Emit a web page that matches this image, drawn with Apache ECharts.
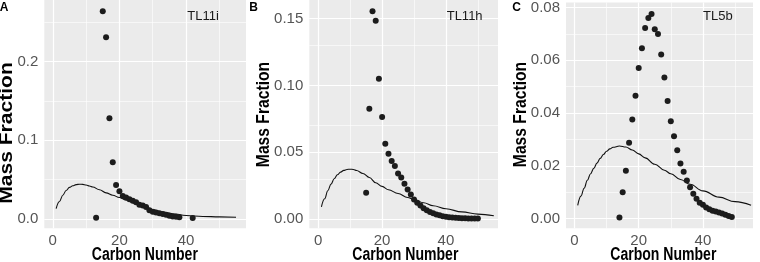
<!DOCTYPE html>
<html><head><meta charset="utf-8">
<script src="https://cdn.jsdelivr.net/npm/echarts@6/dist/echarts.min.js"></script>
<style>html,body{margin:0;padding:0;background:#fff}#c{width:760px;height:262px}</style>
</head><body><div id="c"></div>
<script>
// ---- data ----
const carbonA = [13,15,16,17,18,19,20,21,22,23,24,25,26,27,28,29,30,31,32,33,34,35,36,37,38,42];
const massA = [0.0013,0.264,0.231,0.128,0.072,0.043,0.035,0.029,0.027,0.025,0.023,0.021,0.018,0.017,0.015,0.011,0.009,0.008,0.007,0.006,0.005,0.004,0.003,0.0025,0.002,0.001];
const carbonB = [15,16,17,18,19,20,21,22,23,24,25,26,27,28,29,30,31,32,33,34,35,36,37,38,39,40,41,42,43,44,45,46,47,48,49,50];
const massB = [0.0195,0.0825,0.1555,0.1485,0.105,0.0763,0.0563,0.0488,0.0433,0.0395,0.034,0.031,0.0263,0.022,0.0182,0.0145,0.012,0.010,0.008,0.0065,0.0052,0.0042,0.0033,0.0026,0.002,0.0016,0.0012,0.001,0.0008,0.0006,0.0005,0.0004,0.0003,0.0003,0.0002,0.0002];
const carbonC = [14,15,16,17,18,19,20,21,22,23,24,25,26,27,28,29,30,31,32,33,34,35,36,37,38,39,40,41,42,43,44,45,46,47,48,49];
const massC = [0.0004,0.010,0.0181,0.0287,0.0375,0.0465,0.0571,0.0646,0.0722,0.076,0.0775,0.0718,0.070,0.0622,0.0535,0.0446,0.0369,0.0312,0.0259,0.0209,0.0177,0.0144,0.0119,0.0094,0.0075,0.006,0.0052,0.0042,0.0035,0.003,0.0027,0.0023,0.0019,0.0014,0.001,0.0006];
const curveX = [1,2,3,4,5,6,7,8,9,10,11,12,14,16,18,20,22,25,28,30,33,36,40,45,50,55];
const curveA = [0.013,0.022,0.030,0.036,0.040,0.042,0.0435,0.044,0.0438,0.043,0.0418,0.0405,0.037,0.033,0.030,0.027,0.024,0.019,0.0145,0.0115,0.0085,0.0065,0.0042,0.0030,0.0024,0.0019];
const curveB = [0.009,0.015,0.021,0.026,0.030,0.033,0.035,0.0363,0.037,0.0372,0.037,0.0362,0.034,0.031,0.027,0.0243,0.0218,0.019,0.016,0.0145,0.012,0.0098,0.0075,0.0052,0.0035,0.0023];
const curveC = [0.005,0.0085,0.0115,0.0145,0.017,0.019,0.021,0.0228,0.0243,0.0255,0.0264,0.027,0.0275,0.0271,0.026,0.0245,0.023,0.0206,0.0183,0.017,0.0148,0.013,0.0105,0.0081,0.0064,0.005];
const xTicks = [0,20,40];
const xMinor = [10,30,50];
const yTicksA = [0,0.1,0.2], yMinorA = [0.05,0.15,0.25], yLabelsA = ['0.0','0.1','0.2'];
const yTicksB = [0,0.05,0.10,0.15], yMinorB = [0.025,0.075,0.125], yLabelsB = ['0.00','0.05','0.10','0.15'];
const yTicksC = [0,0.02,0.04,0.06,0.08], yMinorC = [0.01,0.03,0.05,0.07], yLabelsC = ['0.00','0.02','0.04','0.06','0.08'];
const panelLetters = ['A','B','C'];
const sampleNames = ['TL11i','TL11h','TL5b'];
const xTitle = 'Carbon Number', yTitle = 'Mass Fraction';

// ---- layout ----
const FONT = '"Liberation Sans", Arial, Helvetica, sans-serif';
const panels = [
  {grid:{left:44.3,top:0,width:201.7,height:228.3}, xr:[-2.55,58.0], yr:[-0.0121,0.2784],
   carbon:carbonA, mass:massA, curve:curveA, yt:yTicksA, ym:yMinorA, yl:yLabelsA},
  {grid:{left:309.3,top:0,width:188.7,height:228.3}, xr:[-2.8,56.3], yr:[-0.0071,0.164],
   carbon:carbonB, mass:massB, curve:curveB, yt:yTicksB, ym:yMinorB, yl:yLabelsB},
  {grid:{left:566,top:0,width:187,height:228.3}, xr:[-2.65,55.6], yr:[-0.0037,0.0819],
   carbon:carbonC, mass:massC, curve:curveC, yt:yTicksC, ym:yMinorC, yl:yLabelsC}
];

const grid=[], xAxis=[], yAxis=[], series=[];
panels.forEach((p,i)=>{
  grid.push(Object.assign({show:true,backgroundColor:'#EBEBEB',borderWidth:0,containLabel:false},p.grid));
  xAxis.push({type:'value',gridIndex:i,min:p.xr[0],max:p.xr[1],
    axisLine:{show:false},
    axisTick:{show:true,length:4,inside:false,customValues:xTicks,lineStyle:{color:'#333',width:1}},
    axisLabel:{customValues:xTicks,fontSize:15,color:'#555',margin:5,fontFamily:FONT},
    splitLine:{show:false}});
  yAxis.push({type:'value',gridIndex:i,min:p.yr[0],max:p.yr[1],
    axisLine:{show:false},
    axisTick:{show:true,length:4,inside:false,customValues:p.yt,lineStyle:{color:'#333',width:1}},
    axisLabel:{customValues:p.yt,fontSize:15,color:'#555',margin:6,fontFamily:FONT,
      formatter:(v)=>{const k=p.yt.findIndex(t=>Math.abs(t-v)<1e-9);return k>=0?p.yl[k]:'';}},
    splitLine:{show:false}});
  const gl = [];
  xTicks.forEach(v=>gl.push({xAxis:v,lineStyle:{width:1.2}}));
  xMinor.filter(v=>v<p.xr[1]).forEach(v=>gl.push({xAxis:v,lineStyle:{width:0.6}}));
  p.yt.forEach(v=>gl.push({yAxis:v,lineStyle:{width:1.2}}));
  p.ym.filter(v=>v<p.yr[1]).forEach(v=>gl.push({yAxis:v,lineStyle:{width:0.6}}));
  series.push({type:'scatter',xAxisIndex:i,yAxisIndex:i,z:3,
    data:p.carbon.map((c,k)=>[c,p.mass[k]]),symbolSize:6,
    itemStyle:{color:'#1c1c1c',opacity:1},
    markLine:{silent:true,z:1,symbol:['none','none'],label:{show:false},animation:false,
      lineStyle:{color:'#ffffff',type:'solid'},emphasis:{disabled:true},data:gl}});
  series.push({type:'line',xAxisIndex:i,yAxisIndex:i,z:2,
    data:curveX.map((c,k)=>[c,p.curve[k]]),showSymbol:false,smooth:0.4,smoothMonotone:'x',
    lineStyle:{color:'#111',width:1.1}});
});

const graphic = [];
const xTitleCx = [144.8,405.3,663.3];
const yTitleC = [[6.8,133,1.17],[264.5,114.5,0.87],[521,114.5,0.87]];
const letterPos = [[4,7.5],[253.5,7.5],[516.5,8]];
const namePos = [[187.3,16.5],[446.7,16.5],[703,16.5]];
for(let i=0;i<3;i++){
  graphic.push({type:'text',z:100,x:xTitleCx[i],y:255,scaleX:0.78,silent:true,
    style:{text:xTitle,font:'bold 18px '+FONT,fill:'#000',textAlign:'center',textVerticalAlign:'middle'}});
  graphic.push({type:'text',z:100,x:yTitleC[i][0],y:yTitleC[i][1],rotation:Math.PI/2,scaleX:yTitleC[i][2],silent:true,
    style:{text:yTitle,font:'bold 18px '+FONT,fill:'#000',textAlign:'center',textVerticalAlign:'middle'}});
  graphic.push({type:'text',z:100,x:letterPos[i][0],y:letterPos[i][1],silent:true,
    style:{text:panelLetters[i],font:'bold 12px '+FONT,fill:'#000',textAlign:'center',textVerticalAlign:'middle'}});
  graphic.push({type:'text',z:100,x:namePos[i][0],y:namePos[i][1],silent:true,
    style:{text:sampleNames[i],font:'13px '+FONT,fill:'#1a1a1a',textAlign:'left',textVerticalAlign:'middle'}});
}

const chart = echarts.init(document.getElementById('c'),null,{renderer:'canvas'});
chart.setOption({animation:false,backgroundColor:'#fff',grid,xAxis,yAxis,series,graphic});
</script></body></html>
